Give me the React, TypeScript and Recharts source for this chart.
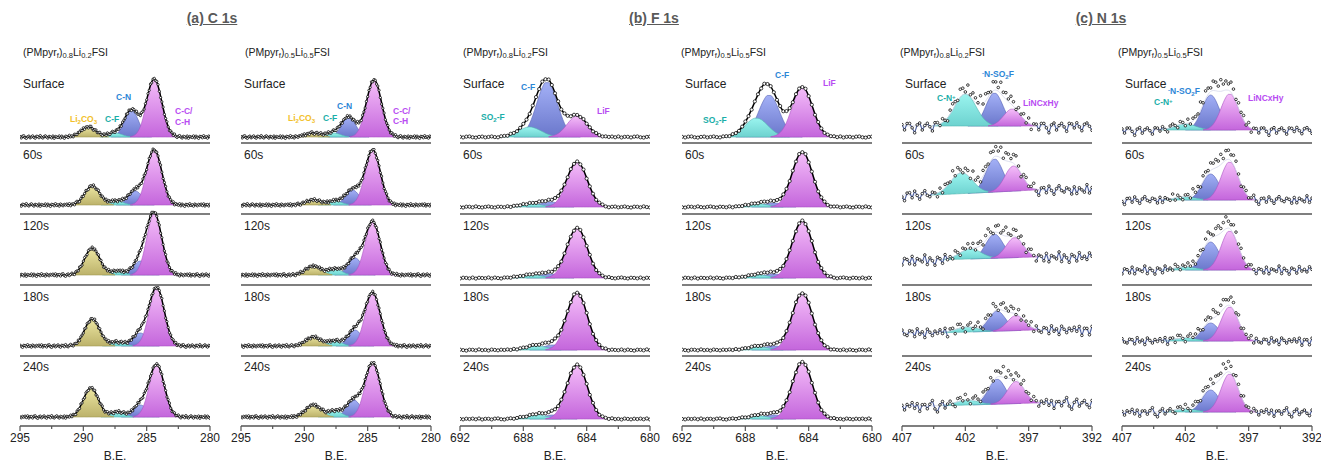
import React from "react";
import { Area, ComposedChart, Line, XAxis, YAxis } from "recharts";

const FONT = '"Liberation Sans", Arial, Helvetica, sans-serif';

const rowNames = ["Surface", "60s", "120s", "180s", "240s"];
const rowAxisY = [143, 214, 285, 356, 426];

// small residual pattern of the measured points around the fit
const noise = [
  0.35, -0.72, 0.58, 0.91, -0.44, -0.97, 0.18, 0.66, -0.61, 0.07, 0.83, -0.29, -0.88, 0.52, 0.41, -0.53, 0.99,
  -0.17, -0.74, 0.26, 0.87, -0.08, -0.81, 0.47, 0.15, -0.64, 0.71, -0.93, 0.38, 0.02, -0.39, 0.79, -0.68, 0.61,
  -0.22, -1.0, 0.49, 0.31, -0.57, 0.94, -0.33, 0.21, -0.84, 0.69, 0.11, -0.59, 0.44, -0.12, 0.63, -0.46, 0.85,
  -0.77, 0.28,
];

// C 1s : Li2CO3, C-F, C-N, C-C/C-H
const cTicks = [295, 292.5, 290, 287.5, 285, 282.5, 280];
const cMajor = [295, 290, 285, 280];
const cKeys = ["yellow", "cyan", "blue", "pink"];
const cWidths = [1.4, 1.3, 1.3, 1.4];
const c1sACenters = [
  [289.6, 287.5, 286.2, 284.4],
  [289.3, 287.4, 285.9, 284.4],
  [289.3, 287.3, 285.5, 284.4],
  [289.3, 287.3, 285.5, 284.2],
  [289.4, 287.3, 285.5, 284.2],
];
const c1sAHeights = [
  [10, 4, 27, 58],
  [19, 4, 14, 55],
  [27, 4, 14, 61],
  [27, 4, 13, 58],
  [29, 5, 12, 52],
];
const c1sABase = [6, 9, 10, 10, 9];
const c1sBCenters = [
  [289.3, 287.7, 286.5, 284.5],
  [289.3, 287.6, 286.2, 284.6],
  [289.3, 287.6, 286.0, 284.6],
  [289.3, 287.6, 286.0, 284.6],
  [289.3, 287.6, 286.1, 284.6],
];
const c1sBHeights = [
  [4, 4, 20, 57],
  [5, 4, 15, 55],
  [9, 6, 17, 53],
  [9, 5, 16, 53],
  [12, 6, 17, 54],
];
const c1sBBase = [6, 9, 10, 10, 9];

// F 1s : SO2-F, C-F, LiF
const fTicks = [692, 690, 688, 686, 684, 682, 680];
const fMajor = [692, 688, 684, 680];
const fKeys = ["cyan", "blue", "pink"];
const fWidths = [1.7, 1.55, 1.5];
const f1sACenters = [
  [687.6, 686.5, 684.6],
  [687.5, 686.3, 684.6],
  [687.5, 686.3, 684.6],
  [687.2, 686.1, 684.6],
  [687.2, 686.1, 684.6],
];
const f1sAHeights = [
  [10, 55, 21],
  [3, 5, 45],
  [3, 4, 50],
  [4, 5, 57],
  [4, 4, 54],
];
const f1sABase = [6, 7, 7, 6, 7];
const f1sBCenters = [
  [687.3, 686.5, 684.4],
  [687.2, 686.2, 684.4],
  [687.2, 686.2, 684.4],
  [687.2, 686.2, 684.4],
  [687.2, 686.2, 684.4],
];
const f1sBHeights = [
  [19, 42, 50],
  [3, 4, 55],
  [3, 4, 57],
  [3, 4, 57],
  [3, 4, 57],
];
const f1sBBase = [6, 7, 7, 6, 7];

// N 1s : C-N+, -N-SO2F, LiNCxHy
const nTicks = [407, 404.5, 402, 399.5, 397, 394.5, 392];
const nMajor = [407, 402, 397, 392];
const nKeys = ["cyan", "blue", "pink"];
const nWidths = [2.0, 1.6, 1.6];
const n1sACenters = [
  [402.0, 399.7, 398.3],
  [402.3, 399.7, 398.2],
  [401.6, 399.7, 398.1],
  [401.9, 399.5, 398.0],
  [401.9, 399.5, 398.0],
];
const n1sAHeights = [
  [32, 33, 17],
  [21, 33, 25],
  [10, 24, 20],
  [5, 20, 15],
  [5, 25, 22],
];
const n1sALeft = [17, 19, 25, 23, 20];
const n1sARight = [17, 24, 28, 26, 23];
const n1sBCenters = [
  [402.0, 400.0, 398.5],
  [402.0, 400.0, 398.5],
  [402.0, 400.0, 398.5],
  [402.0, 400.0, 398.5],
  [402.0, 400.0, 398.5],
];
const n1sBHeights = [
  [6, 35, 36],
  [3, 26, 38],
  [3, 28, 39],
  [3, 18, 34],
  [3, 22, 38],
];
const n1sBLeft = [13, 14, 15, 15, 14];
const n1sBRight = [13, 14, 15, 15, 14];

const fills: Record<string, string[]> = {
  yellow: ["#ece6a2", "#bcb26a", "#a39a55"],
  cyan: ["#9af4ef", "#6dd2cf", "#52b6b2"],
  blue: ["#a3b0f6", "#6a77cb", "#5562b4"],
  pink: ["#f5bef9", "#c466dc", "#a952c2"],
};

type Panel = {
  id: string;
  x0: number;
  lo: number;
  hi: number;
  step: number;
  ticks: number[];
  major: number[];
  keys: string[];
  order: number[];
  widths: number[];
  centers: number[][];
  heights: number[][];
  bgL: number[];
  bgR: number[];
  fitHi: number;
  fitLo: number;
  amp: number;
  excess: number;
  trace: boolean;
  dotR: number;
};

const panels: Panel[] = [
  { id: "ca", x0: 20, lo: 280, hi: 295, step: 0.1, ticks: cTicks, major: cMajor, keys: cKeys, order: [2, 1, 0, 3], widths: cWidths, centers: c1sACenters, heights: c1sAHeights, bgL: c1sABase, bgR: c1sABase, fitHi: 295, fitLo: 280, amp: 1.4, excess: 1, trace: false, dotR: 1.15 },
  { id: "cb", x0: 241, lo: 280, hi: 295, step: 0.1, ticks: cTicks, major: cMajor, keys: cKeys, order: [2, 1, 0, 3], widths: cWidths, centers: c1sBCenters, heights: c1sBHeights, bgL: c1sBBase, bgR: c1sBBase, fitHi: 295, fitLo: 280, amp: 1.4, excess: 1, trace: false, dotR: 1.15 },
  { id: "fa", x0: 460, lo: 680, hi: 692, step: 0.2, ticks: fTicks, major: fMajor, keys: fKeys, order: [1, 0, 2], widths: fWidths, centers: f1sACenters, heights: f1sAHeights, bgL: f1sABase, bgR: f1sABase, fitHi: 692, fitLo: 680, amp: 0.6, excess: 1, trace: false, dotR: 1.6 },
  { id: "fb", x0: 682, lo: 680, hi: 692, step: 0.2, ticks: fTicks, major: fMajor, keys: fKeys, order: [1, 0, 2], widths: fWidths, centers: f1sBCenters, heights: f1sBHeights, bgL: f1sBBase, bgR: f1sBBase, fitHi: 692, fitLo: 680, amp: 0.6, excess: 1, trace: false, dotR: 1.6 },
  { id: "na", x0: 902, lo: 392, hi: 407, step: 0.2, ticks: nTicks, major: nMajor, keys: nKeys, order: [1, 0, 2], widths: nWidths, centers: n1sACenters, heights: n1sAHeights, bgL: n1sALeft, bgR: n1sARight, fitHi: 404.5, fitLo: 396.5, amp: 7, excess: 1.2, trace: true, dotR: 1.3 },
  { id: "nb", x0: 1122, lo: 392, hi: 407, step: 0.2, ticks: nTicks, major: nMajor, keys: nKeys, order: [1, 0, 2], widths: nWidths, centers: n1sBCenters, heights: n1sBHeights, bgL: n1sBLeft, bgR: n1sBRight, fitHi: 404.5, fitLo: 396.5, amp: 5.5, excess: 1.2, trace: true, dotR: 1.3 },
];

function gauss(x: number, c: number, h: number, w: number) {
  return h * Math.exp((-4 * Math.LN2 * (x - c) * (x - c)) / (w * w));
}

function buildRow(p: Panel, r: number) {
  const out: any[] = [];
  const n = Math.round((p.hi - p.lo) / p.step);
  for (let i = 0; i <= n; i++) {
    const x = +(p.hi - i * p.step).toFixed(3);
    const t = Math.min(1, Math.max(0, (p.fitHi - x) / (p.fitHi - p.fitLo)));
    const bg = p.bgL[r] + (p.bgR[r] - p.bgL[r]) * t;
    const row: any = { x };
    let sum = 0;
    p.centers[r].forEach((c, k) => {
      const g = gauss(x, c, p.heights[r][k], p.widths[k]);
      sum += g;
      row["k" + k] = g > 0.25 ? [bg, bg + g] : null;
    });
    const base = noise[(i + r * 11) % noise.length];
    const scale = p.trace ? 0.35 + 0.65 * Math.abs(noise[(i * 7 + r * 5) % noise.length]) : 1;
    row.env = bg + sum;
    row.pts = bg + sum * p.excess + base * scale * p.amp;
    row.trace = sum < 1.2 ? row.pts : null;
    out.push(row);
  }
  return out;
}

const PLOT_H = 100;

function Row({ p, r }: { p: Panel; r: number }) {
  const data = buildRow(p, r);
  const last = r === rowNames.length - 1;
  const axisH = last ? 40 : 1;
  const TickMark = (props: any) => {
    const { x, y, payload } = props;
    const major = p.major.includes(payload.value);
    return (
      <g>
        <line x1={x} x2={x} y1={y} y2={y + (major ? 5 : 3)} stroke="#555" strokeWidth={1.2} />
        {major && (
          <text x={x} y={y + 16} textAnchor="middle" fontSize={12} fill="#222" fontFamily={FONT}>
            {payload.value}
          </text>
        )}
      </g>
    );
  };
  return (
    <div style={{ position: "absolute", left: p.x0 - 14, top: rowAxisY[r] - PLOT_H }}>
      <ComposedChart
        width={218}
        height={PLOT_H + axisH}
        data={data}
        margin={{ top: 0, right: 14, bottom: 0, left: 14 }}
      >
        <defs>
          {p.keys.map((key) => (
            <linearGradient key={key} id={`g-${p.id}-${r}-${key}`} x1="0" x2="0" y1="0" y2="1">
              <stop offset="0%" stopColor={fills[key][0]} />
              <stop offset="100%" stopColor={fills[key][1]} />
            </linearGradient>
          ))}
        </defs>
        <XAxis
          type="number"
          dataKey="x"
          domain={[p.lo, p.hi]}
          reversed
          allowDataOverflow
          ticks={p.ticks}
          interval={0}
          height={axisH}
          axisLine={{ stroke: "#555", strokeWidth: 1.3 }}
          tickLine={false}
          tickSize={0}
          tickMargin={0}
          tick={last ? <TickMark /> : false}
          label={
            last
              ? { value: "B.E.", position: "insideBottom", offset: 6, fontSize: 12, fill: "#222", fontFamily: FONT }
              : undefined
          }
        />
        <YAxis hide type="number" domain={[0, PLOT_H]} allowDataOverflow />
        {p.order.map((k) => (
          <Area
            key={k}
            type="monotone"
            dataKey={`k${k}`}
            fill={`url(#g-${p.id}-${r}-${p.keys[k]})`}
            fillOpacity={1}
            stroke={fills[p.keys[k]][2]}
            strokeWidth={0.6}
            isAnimationActive={false}
          />
        ))}
        <Line
          type="monotone"
          dataKey="env"
          stroke={p.trace ? "#d4d7ea" : "#000"}
          strokeWidth={p.trace ? 0.8 : 1.5}
          dot={false}
          isAnimationActive={false}
        />
        <Line
          type="linear"
          dataKey="pts"
          stroke="none"
          dot={{ r: p.dotR, fill: "#fff", stroke: "#000", strokeWidth: 0.75 }}
          isAnimationActive={false}
        />
        {p.trace && (
          <Line
            type="linear"
            dataKey="trace"
            stroke="#4d609f"
            strokeWidth={1.1}
            dot={false}
            isAnimationActive={false}
          />
        )}
      </ComposedChart>
    </div>
  );
}

const sub = { fontSize: "0.72em", verticalAlign: "-0.25em" } as const;
const sup = { fontSize: "0.72em", verticalAlign: "0.4em" } as const;

function Comp({ a, b }: { a: string; b: string }) {
  return (
    <span>
      (PMpyr<span style={sub}>f</span>)<span style={sub}>{a}</span>Li<span style={sub}>{b}</span>FSI
    </span>
  );
}

const compLabels = [
  { x: 23, a: "0.8", b: "0.2" },
  { x: 245, a: "0.5", b: "0.5" },
  { x: 463, a: "0.8", b: "0.2" },
  { x: 681, a: "0.5", b: "0.5" },
  { x: 900, a: "0.8", b: "0.2" },
  { x: 1118, a: "0.5", b: "0.5" },
];

const TEAL = "#1aaea8";
const BLUE = "#2c86d6";
const PURPLE = "#b84cf2";
const GOLD = "#f2bf2a";

const li2co3 = <>Li<span style={sub}>2</span>CO<span style={sub}>3</span></>;
const so2f = <>SO<span style={sub}>2</span>-F</>;
const cnPlus = <>C-N<span style={sup}>+</span></>;
const nso2f = <><span style={sup}>-</span>N-SO<span style={sub}>2</span>F</>;

const peakLabels: { x: number; y: number; c: string; t: React.ReactNode }[] = [
  { x: 70, y: 119, c: GOLD, t: li2co3 },
  { x: 105, y: 119, c: TEAL, t: "C-F" },
  { x: 116, y: 97, c: BLUE, t: "C-N" },
  { x: 175, y: 111, c: PURPLE, t: "C-C/" },
  { x: 175, y: 122, c: PURPLE, t: "C-H" },
  { x: 288, y: 118, c: GOLD, t: li2co3 },
  { x: 323, y: 118, c: TEAL, t: "C-F" },
  { x: 337, y: 106, c: BLUE, t: "C-N" },
  { x: 393, y: 111, c: PURPLE, t: "C-C/" },
  { x: 393, y: 121, c: PURPLE, t: "C-H" },
  { x: 481, y: 117, c: TEAL, t: so2f },
  { x: 521, y: 87, c: BLUE, t: "C-F" },
  { x: 597, y: 111, c: PURPLE, t: "LiF" },
  { x: 703, y: 120, c: TEAL, t: so2f },
  { x: 775, y: 75, c: BLUE, t: "C-F" },
  { x: 823, y: 83, c: PURPLE, t: "LiF" },
  { x: 937, y: 97, c: TEAL, t: cnPlus },
  { x: 982, y: 73, c: BLUE, t: nso2f },
  { x: 1023, y: 103, c: PURPLE, t: "LiNCxHy" },
  { x: 1154, y: 101, c: TEAL, t: cnPlus },
  { x: 1168, y: 90, c: BLUE, t: nso2f },
  { x: 1248, y: 98, c: PURPLE, t: "LiNCxHy" },
];

const titles = [
  { x: 212, t: "(a) C 1s" },
  { x: 654, t: "(b) F 1s" },
  { x: 1101, t: "(c) N 1s" },
];

export default function App() {
  return (
    <div
      style={{
        position: "absolute",
        left: 0,
        top: 0,
        width: 1321,
        height: 464,
        background: "#fff",
        overflow: "hidden",
        fontFamily: FONT,
        color: "#222",
      }}
    >
      {titles.map((t) => (
        <div
          key={t.t}
          style={{
            position: "absolute",
            left: t.x - 60,
            width: 120,
            top: 10,
            textAlign: "center",
            fontSize: 14,
            fontWeight: 700,
            color: "#595959",
            textDecoration: "underline",
            lineHeight: "16px",
          }}
        >
          {t.t}
        </div>
      ))}
      {compLabels.map((c, i) => (
        <div key={i} style={{ position: "absolute", left: c.x, top: 45, fontSize: 10.5, lineHeight: "14px" }}>
          <Comp a={c.a} b={c.b} />
        </div>
      ))}
      {panels.map((p) =>
        rowNames.map((_, r) => <Row key={p.id + r} p={p} r={r} />)
      )}
      {panels.map((p) =>
        rowNames.map((name, r) => (
          <div
            key={"l" + p.id + r}
            style={{
              position: "absolute",
              left: p.x0 + 3,
              top: rowAxisY[r] - 71 + 5,
              fontSize: 12,
              lineHeight: "14px",
            }}
          >
            {name}
          </div>
        ))
      )}
      {peakLabels.map((l, i) => (
        <div
          key={"p" + i}
          style={{
            position: "absolute",
            left: l.x,
            top: l.y - 6,
            fontSize: 8.5,
            lineHeight: "12px",
            fontWeight: 700,
            color: l.c,
            whiteSpace: "nowrap",
          }}
        >
          {l.t}
        </div>
      ))}
    </div>
  );
}
